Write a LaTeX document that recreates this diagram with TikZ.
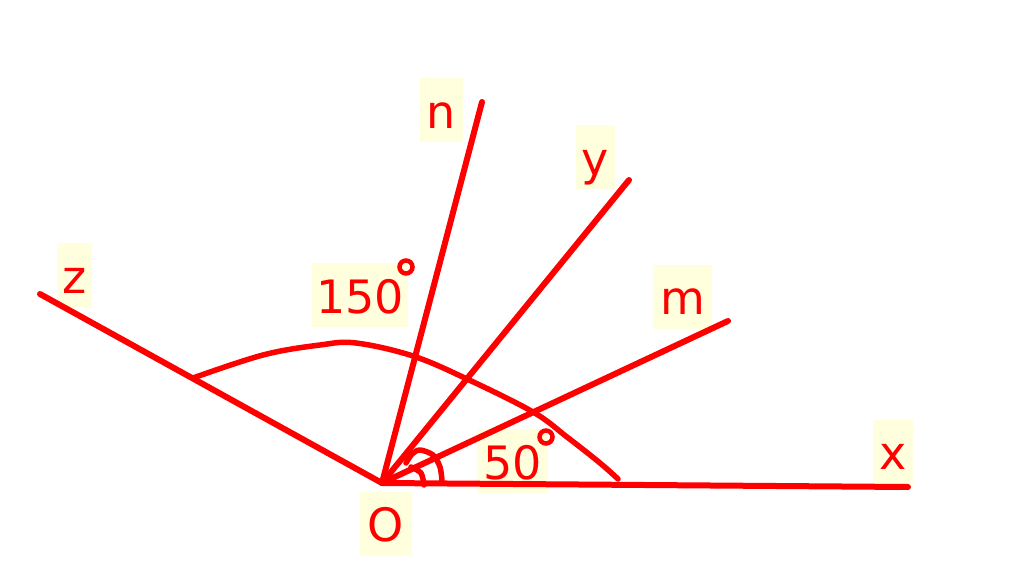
\documentclass[tikz,border=0pt]{standalone}
\usepackage{fontspec}
\setmainfont{DejaVu Sans}
\definecolor{lblbg}{RGB}{255,255,222}
\definecolor{ink}{RGB}{255,0,0}
\tikzset{
  ray/.style={draw=ink, line width=6pt, line cap=round, line join=round},
  mark arc/.style={draw=ink, line width=5.5pt, line cap=round, line join=round},
  lbl/.style={fill=lblbg, text=ink, inner sep=0pt, text height=50pt, text depth=14pt,
    font=\fontsize{46}{46}\selectfont, align=center},
  degmark/.style={circle, draw=ink, line width=4.5pt, minimum size=13pt, inner sep=0pt},
}
\begin{document}
\begin{tikzpicture}[x=1pt, y=-1pt]
\useasboundingbox (0,0) rectangle (1024,569);
% label boxes
\node[lbl, minimum width=43pt] (ln) at (441.5,110.5) {n};
\node[lbl, minimum width=39pt] (ly) at (595.5,157.5) {y};
\node[lbl, minimum width=59pt] (lm) at (682.5,296.5) {m};
\node[lbl, minimum width=40pt] (lx) at (893,451.5) {x};
\node[lbl, minimum width=35pt] (lz) at (74.5,275) {z};
\node[lbl, minimum width=96pt] (l150) at (360,295) {150};
\node[lbl, minimum width=71pt] (l50) at (512.5,461) {50};
\node[lbl, minimum width=52pt] (lO) at (386,523.5) {O};
\node[degmark] (d150) at (406,267) {};
\node[degmark] (d50) at (546,437) {};
% points
\coordinate (O) at (382,483);
\coordinate (X) at (908,487);
\coordinate (M) at (728,321);
\coordinate (Y) at (629,180);
\coordinate (N) at (482,102);
\coordinate (Z) at (40,294);
% rays
\draw[ray] (O) -- (X);
\draw[ray] (O) -- (M);
\draw[ray] (O) -- (Y);
\draw[ray] (O) -- (N);
\draw[ray] (O) -- (Z);
% big arc zOx
\draw[mark arc] plot[smooth, tension=0.6] coordinates {(193,378) (263,355) (320,345) (356,343) (413,356) (467,379) (533,412) (567,437) (600,463) (618,479)};
% small arcs
\draw[mark arc] plot[smooth] coordinates {(406,463) (412,454) (420,450) (433,455) (440,467) (442,481)};
\draw[mark arc] plot[smooth] coordinates {(411,467) (421,473) (424,485)};
\end{tikzpicture}
\end{document}
